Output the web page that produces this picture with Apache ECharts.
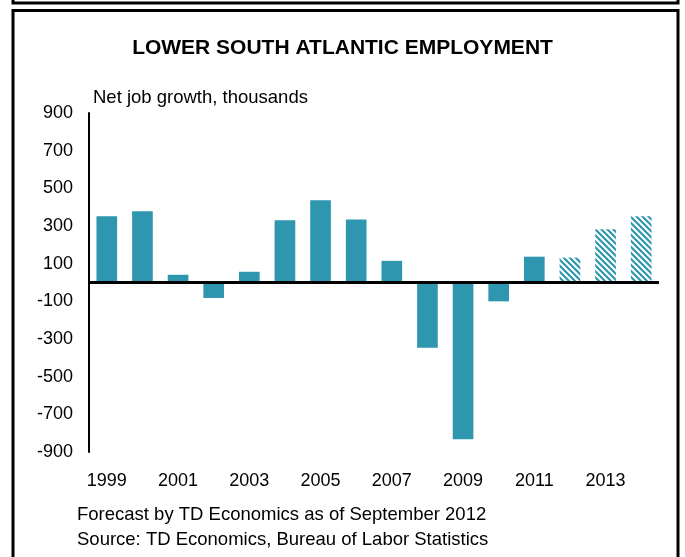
<!DOCTYPE html>
<html>
<head>
<meta charset="utf-8">
<script src="https://cdn.jsdelivr.net/npm/echarts@6/dist/echarts.min.js"></script>
<style>
  html, body { margin: 0; padding: 0; background: #fff; }
  #chart { width: 685px; height: 557px; }
</style>
</head>
<body>
<div id="chart"></div>
<script>
// Net job growth, thousands — Lower South Atlantic
const years = ['1999','2000','2001','2002','2003','2004','2005','2006','2007','2008','2009','2010','2011','2012','2013','2014'];
const actualGrowth = [352, 378, 41, -82, 57, 330, 437, 335, 115, -347, -832, -100, 137];
const forecastGrowth = [132, 283, 352];
const yTicks = { min: -900, max: 900, step: 200 };

const TEAL = '#2E96AE';
const FONT = '"Liberation Sans", Arial, sans-serif';

// diagonal hatch for forecast years
function hatchPattern() {
  const s = 6;
  const c = document.createElement('canvas');
  c.width = s; c.height = s;
  const g = c.getContext('2d');
  g.fillStyle = '#ffffff';
  g.fillRect(0, 0, s, s);
  g.strokeStyle = TEAL;
  g.lineWidth = 2.2;
  g.beginPath();
  for (let k = -1; k <= 1; k++) {
    g.moveTo(k * s - 1, -1);
    g.lineTo(k * s + s + 1, s + 1);
  }
  g.stroke();
  return c;
}

const nActual = actualGrowth.length;
const actualData = years.map((_, i) => (i < nActual ? actualGrowth[i] : '-'));
const forecastData = years.map((_, i) => (i >= nActual ? forecastGrowth[i - nActual] : '-'));

const chart = echarts.init(document.getElementById('chart'), null, { renderer: 'canvas' });

chart.setOption({
  animation: false,
  backgroundColor: '#ffffff',
  title: {
    text: 'LOWER SOUTH ATLANTIC EMPLOYMENT',
    left: 'center',
    top: 33,
    textStyle: { fontFamily: FONT, fontSize: 21, fontWeight: 'bold', color: '#000' }
  },
  grid: { left: 89, right: 26, top: 113, bottom: 105, containLabel: false },
  xAxis: {
    type: 'category',
    data: years,
    axisLine: { show: false, onZero: false },
    axisTick: { show: false },
    axisLabel: { interval: 1, margin: 20, fontFamily: FONT, fontSize: 18, color: '#000' }
  },
  yAxis: {
    type: 'value',
    min: yTicks.min,
    max: yTicks.max,
    interval: yTicks.step,
    splitLine: { show: false },
    axisTick: { show: false },
    axisLine: { show: true, onZero: false, lineStyle: { color: '#000', width: 2 } },
    axisLabel: { margin: 16, fontFamily: FONT, fontSize: 18, color: '#000' }
  },
  series: [
    {
      type: 'bar',
      data: actualData,
      barWidth: '58%',
      itemStyle: { color: TEAL },
      markLine: {
        silent: true,
        symbol: ['none', 'none'],
        label: { show: false },
        lineStyle: { color: '#000', width: 3, type: 'solid' },
        data: [{ yAxis: 0 }],
        z: 10
      }
    },
    {
      type: 'bar',
      data: forecastData,
      barWidth: '58%',
      barGap: '-100%',
      itemStyle: { color: { image: hatchPattern(), repeat: 'repeat' } }
    }
  ],
  graphic: [
    { type: 'rect', shape: { x: 13, y: -20, width: 665, height: 23 },
      style: { fill: 'none', stroke: '#000', lineWidth: 3 } },
    { type: 'rect', shape: { x: 13, y: 10.5, width: 665, height: 570 },
      style: { fill: 'none', stroke: '#000', lineWidth: 3 } },
    { type: 'text', left: 93, top: 88,
      style: { text: 'Net job growth, thousands', font: '18.5px ' + FONT, fill: '#000' } },
    { type: 'text', left: 77, top: 505,
      style: { text: 'Forecast by TD Economics as of September 2012', font: '18.5px ' + FONT, fill: '#000' } },
    { type: 'text', left: 77, top: 530,
      style: { text: 'Source: TD Economics, Bureau of Labor Statistics', font: '18.5px ' + FONT, fill: '#000' } }
  ]
});
</script>
</body>
</html>
